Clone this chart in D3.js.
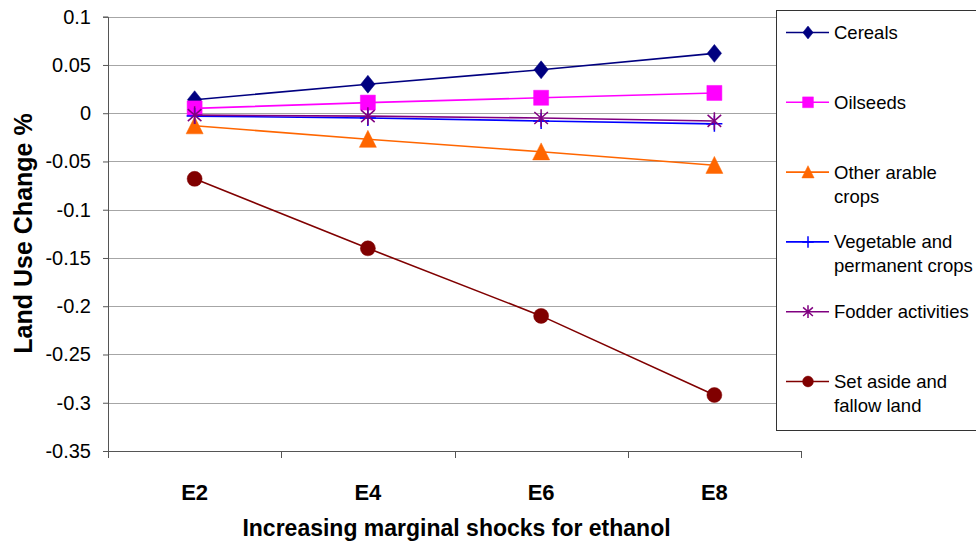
<!DOCTYPE html>
<html>
<head>
<meta charset="utf-8">
<script src="https://cdn.jsdelivr.net/npm/d3@7"></script>
<style>
  body { margin: 0; background: #fff; }
  svg { display: block; font-family: "Liberation Sans", Arial, sans-serif; }
</style>
</head>
<body>
<div class="chart"></div>
<script>
// data
var categories = ["E2", "E4", "E6", "E8"];
var cereals = [0.014, 0.030, 0.045, 0.062];
var oilseeds = [0.005, 0.011, 0.016, 0.021];
var otherArable = [-0.013, -0.027, -0.040, -0.054];
var vegetable = [-0.003, -0.005, -0.008, -0.011];
var fodder = [-0.002, -0.003, -0.005, -0.008];
var setAside = [-0.068, -0.140, -0.210, -0.292];
var yTicks = [0.1, 0.05, 0, -0.05, -0.1, -0.15, -0.2, -0.25, -0.3, -0.35];

// custom marker shapes, size = half extent
var diamond = {draw: function(c, r){
  c.moveTo(0, -r * 1.12); c.lineTo(r * 0.9, 0); c.lineTo(0, r * 1.12); c.lineTo(-r * 0.9, 0); c.closePath();
}};
var square = {draw: function(c, r){ c.rect(-r, -r, 2 * r, 2 * r); }};
var triangle = {draw: function(c, r){
  c.moveTo(0, -r * 1.05); c.lineTo(r, r * 0.95); c.lineTo(-r, r * 0.95); c.closePath();
}};
var plus = {draw: function(c, r){
  c.moveTo(-r, 0); c.lineTo(r, 0); c.moveTo(0, -r); c.lineTo(0, r);
}};
var asterisk = {draw: function(c, r){
  c.moveTo(0, -r * 1.1); c.lineTo(0, r * 1.1);
  c.moveTo(-r * 0.85, -r * 0.75); c.lineTo(r * 0.85, r * 0.75);
  c.moveTo(-r * 0.85, r * 0.75); c.lineTo(r * 0.85, -r * 0.75);
}};
var circle = {draw: function(c, r){ c.moveTo(r, 0); c.arc(0, 0, r, 0, 2 * Math.PI); }};

var series = [
  {name: ["Cereals"], values: cereals, color: "#000080", shape: diamond, r: 8, filled: true},
  {name: ["Oilseeds"], values: oilseeds, color: "#ff00ff", shape: square, r: 7.5, filled: true},
  {name: ["Other arable", "crops"], values: otherArable, color: "#ff6600", shape: triangle, r: 8.5, filled: true},
  {name: ["Vegetable and", "permanent crops"], values: vegetable, color: "#0000ff", shape: plus, r: 8, filled: false},
  {name: ["Fodder activities"], values: fodder, color: "#800080", shape: asterisk, r: 8, filled: false},
  {name: ["Set aside and", "fallow land"], values: setAside, color: "#800000", shape: circle, r: 7.5, filled: true}
];

function init(){
  var w = 976;
  var h = 542;
  var left = 108, right = 801, top = 16.7, bottom = 451;

  var svg = d3.select(".chart")
              .append("svg")
              .attr("width", w)
              .attr("height", h);

  var x = d3.scaleBand()
            .domain(categories)
            .range([left, right])
            .padding(0);

  var y = d3.scaleLinear()
            .domain([-0.35, 0.1])
            .range([bottom, top]);

  // gridlines
  svg.append("g")
      .selectAll("line")
      .data(yTicks.filter(function(d){ return d > -0.35; }))
      .join("line")
        .attr("x1", left)
        .attr("x2", right)
        .attr("y1", function(d){ return Math.round(y(d)) + 0.5; })
        .attr("y2", function(d){ return Math.round(y(d)) + 0.5; })
        .attr("stroke", "#a6a6a6")
        .attr("stroke-width", 1);

  var yAxis = d3.axisLeft(y)
                .tickValues(yTicks)
                .tickSize(5)
                .tickPadding(12)
                .tickFormat(function(d){ return String(+d.toFixed(2)); });

  var yG = svg.append("g")
      .attr("transform", "translate(" + left + ",0)")
      .call(yAxis);
  yG.select(".domain").attr("stroke", "#555");
  yG.selectAll(".tick line").attr("stroke", "#555");
  yG.selectAll("text")
      .style("font-size", "20px")
      .style("font-family", "Liberation Sans")
      .attr("fill", "#000");

  var xAxis = d3.axisBottom(x)
                .tickSize(0)
                .tickPadding(33);

  var xG = svg.append("g")
      .attr("transform", "translate(0," + bottom + ")")
      .call(xAxis);
  xG.select(".domain").attr("stroke", "#555");
  xG.selectAll("text")
      .style("font-size", "22px")
      .style("font-weight", "bold")
      .style("font-family", "Liberation Sans")
      .attr("fill", "#000");

  // ticks between categories
  var bounds = categories.map(function(c){ return x(c); }).concat([x(categories[categories.length - 1]) + x.bandwidth()]);
  svg.append("g")
      .selectAll("line")
      .data(bounds)
      .join("line")
        .attr("x1", function(d){ return Math.round(d) + 0.5; })
        .attr("x2", function(d){ return Math.round(d) + 0.5; })
        .attr("y1", bottom)
        .attr("y2", bottom + 7)
        .attr("stroke", "#555");

  var cx = function(d, i){ return x(categories[i]) + x.bandwidth() / 2; };

  var line = d3.line()
               .x(cx)
               .y(function(d){ return y(d); });

  series.forEach(function(s){
    svg.append("path")
        .datum(s.values)
        .attr("d", line)
        .attr("fill", "none")
        .attr("stroke", s.color)
        .attr("stroke-width", 1.6);

    svg.append("g")
        .selectAll("path")
        .data(s.values)
        .join("path")
          .attr("transform", function(d, i){ return "translate(" + cx(d, i) + "," + y(d) + ")"; })
          .attr("d", d3.symbol().type(s.shape).size(s.r))
          .attr("fill", s.filled ? s.color : "none")
          .attr("stroke", s.color)
          .attr("stroke-width", s.filled ? 0.5 : 1.5);
  });

  // axis titles
  svg.append("text")
      .attr("x", (left + right) / 2 + 2)
      .attr("y", 536)
      .attr("text-anchor", "middle")
      .style("font-size", "23px")
      .style("font-weight", "bold")
      .text("Increasing marginal shocks for ethanol");

  svg.append("text")
      .attr("transform", "translate(32," + 233.5 + ") rotate(-90)")
      .attr("text-anchor", "middle")
      .style("font-size", "25px")
      .style("font-weight", "bold")
      .text("Land Use Change %");

  // legend
  var legend = svg.append("g");
  legend.append("rect")
      .attr("x", 776.5)
      .attr("y", 10.5)
      .attr("width", 230)
      .attr("height", 420)
      .attr("fill", "#fff")
      .attr("stroke", "#333");

  var item = legend.selectAll("g.item")
      .data(series)
      .join("g")
        .attr("class", "item")
        .attr("transform", function(d, i){ return "translate(0," + (32.5 + i * 69.8) + ")"; });

  item.append("line")
      .attr("x1", 786)
      .attr("x2", 829)
      .attr("stroke", function(d){ return d.color; })
      .attr("stroke-width", 1.6);

  item.append("path")
      .attr("transform", "translate(808,0)")
      .attr("d", function(d){ return d3.symbol().type(d.shape).size(d.r * 0.72)(); })
      .attr("fill", function(d){ return d.filled ? d.color : "none"; })
      .attr("stroke", function(d){ return d.color; })
      .attr("stroke-width", function(d){ return d.filled ? 0.5 : 1.5; });

  item.append("text")
      .attr("x", 834)
      .attr("y", 6.5)
      .style("font-size", "18.5px")
      .selectAll("tspan")
      .data(function(d){ return d.name; })
      .join("tspan")
        .attr("x", 834)
        .attr("dy", function(d, i){ return i == 0 ? 0 : 24; })
        .text(function(d){ return d; });
}

window.onload = init;
</script>
</body>
</html>
